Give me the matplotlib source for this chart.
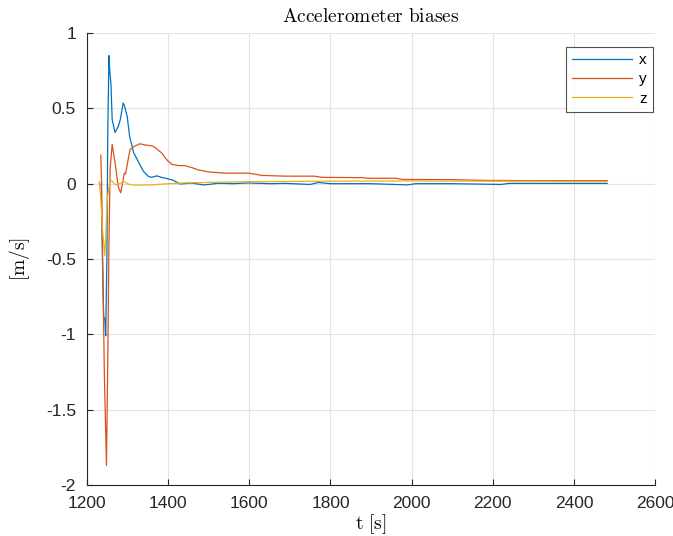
import matplotlib
matplotlib.use("Agg")
import matplotlib.pyplot as plt
from matplotlib.ticker import FuncFormatter

# bias estimates read off the filter log (time in s, bias in m/s)
t_x = [1235, 1238, 1241, 1244, 1246, 1249, 1251, 1254, 1256, 1259, 1262, 1269, 1277,
       1282, 1289, 1292, 1299, 1305, 1315, 1322, 1328, 1339, 1351, 1359, 1372, 1386,
       1396, 1413, 1429, 1458, 1487, 1500, 1524, 1560, 1598, 1650, 1688, 1750, 1770,
       1800, 1900, 1990, 2010, 2100, 2220, 2240, 2350, 2482]
b_x = [0.0, -0.5, -0.88, -0.9, -1.01, -0.5, 0.3, 0.85, 0.75, 0.66, 0.425, 0.34, 0.38,
       0.425, 0.535, 0.52, 0.447, 0.314, 0.205, 0.17, 0.138, 0.082, 0.049, 0.042, 0.052,
       0.04, 0.035, 0.022, -0.002, 0.004, -0.008, -0.005, 0.003, 0.0, 0.005, 0.0, 0.002,
       -0.005, 0.008, 0.0, 0.0, -0.008, 0.0, 0.0, -0.005, 0.002, 0.002, 0.002]

t_y = [1234, 1236, 1239, 1243, 1248, 1251, 1254, 1257, 1262, 1269, 1277, 1283, 1286,
       1292, 1295, 1300, 1306, 1314, 1330, 1342, 1362, 1370, 1384, 1396, 1408, 1425,
       1441, 1458, 1474, 1499, 1540, 1598, 1631, 1688, 1760, 1780, 1880, 1890, 1960,
       1980, 2100, 2170, 2300, 2482]
b_y = [0.19, 0.0, -0.6, -1.3, -1.87, -1.2, -0.4, 0.1, 0.26, 0.14, -0.02, -0.06, -0.02,
       0.07, 0.065, 0.14, 0.226, 0.244, 0.265, 0.258, 0.25, 0.235, 0.204, 0.16, 0.13,
       0.12, 0.12, 0.107, 0.092, 0.078, 0.07, 0.07, 0.055, 0.05, 0.05, 0.042, 0.04,
       0.036, 0.036, 0.028, 0.027, 0.022, 0.02, 0.02]

t_z = [1230, 1234, 1238, 1244, 1250, 1257, 1264, 1270, 1279, 1292, 1302, 1318, 1359,
       1400, 1442, 1524, 1606, 1800, 2000, 2482]
b_z = [0.015, -0.1, -0.3, -0.48, -0.1, 0.03, 0.01, -0.007, 0.0, 0.012, -0.003, -0.01,
       -0.008, 0.0, 0.005, 0.01, 0.013, 0.017, 0.018, 0.015]

plt.rcParams['mathtext.fontset'] = 'cm'
plt.rcParams['axes.unicode_minus'] = False
plt.rcParams['font.family'] = 'Liberation Sans'

fig = plt.figure(figsize=(6.73, 5.36), dpi=100)
ax = fig.add_axes([0.1293, 0.0951, 0.8440, 0.8433])

ax.plot(t_x, b_x, color='#0072BD', lw=0.9, label='x')
ax.plot(t_y, b_y, color='#D95319', lw=0.9, label='y')
ax.plot(t_z, b_z, color='#EDB120', lw=0.9, label='z')

ax.set_xlim(1200, 2600)
ax.set_ylim(-2, 1)
ax.set_xticks(range(1200, 2601, 200))
ax.set_yticks([-2, -1.5, -1, -0.5, 0, 0.5, 1])
ax.yaxis.set_major_formatter(FuncFormatter(lambda v, p: '%g' % v))

ax.grid(True, color='#e3e3e3', lw=0.8)
ax.set_axisbelow(True)
for s in ['top', 'right']:
    ax.spines[s].set_visible(False)
for s in ['left', 'bottom']:
    ax.spines[s].set_color('#262626')
    ax.spines[s].set_linewidth(0.8)
ax.tick_params(direction='in', length=4, width=0.8, colors='#262626',
               labelsize=12.5)
ax.tick_params(axis='x', pad=8)
ax.tick_params(axis='y', pad=8)

ax.set_title(r'$\mathrm{Accelerometer\ biases}$', fontsize=14, pad=8)
ax.set_xlabel(r'$\mathrm{t\ [s]}$', fontsize=14, labelpad=1)
ax.set_ylabel(r'$\mathrm{[m/s]}$', fontsize=14, labelpad=10)

leg = ax.legend(loc='upper right', bbox_to_anchor=(0.9965, 0.969), fontsize=11,
                frameon=True, fancybox=False, handlelength=3.9, handletextpad=0.5,
                borderpad=0.4, labelspacing=0.35, borderaxespad=0.0)
leg.get_frame().set_edgecolor('#262626')
leg.get_frame().set_linewidth(0.8)

fig.savefig('out.png', dpi=100)
